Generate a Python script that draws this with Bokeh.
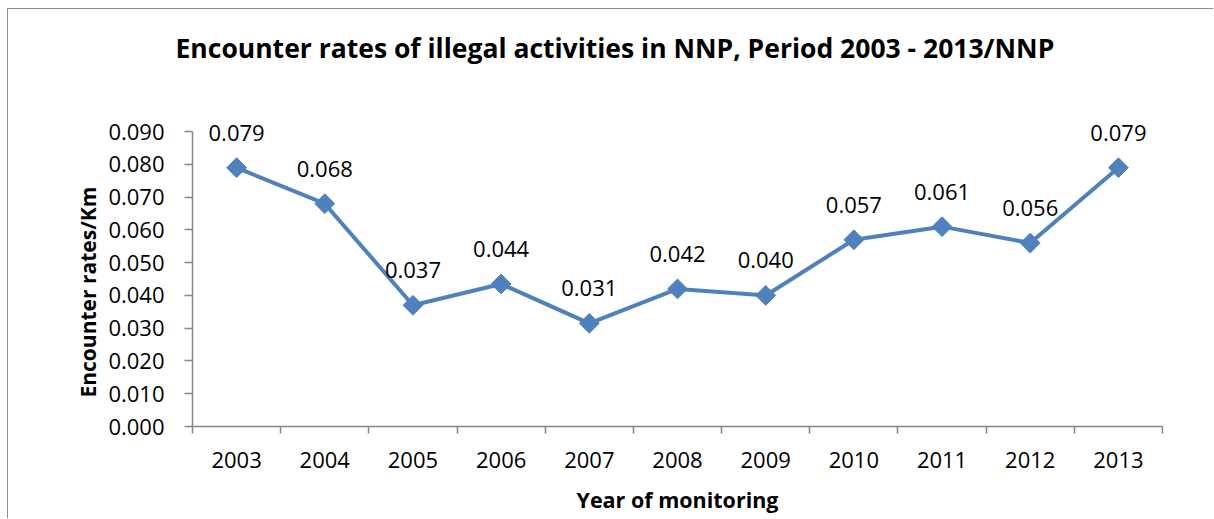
import math
from bokeh.plotting import figure
from bokeh.models import ColumnDataSource, Range1d, FixedTicker, NumeralTickFormatter, LabelSet, Title
from bokeh.core.properties import value
from bokeh.embed import file_html
from bokeh.resources import INLINE

years = [2003, 2004, 2005, 2006, 2007, 2008, 2009, 2010, 2011, 2012, 2013]
rates = [0.079, 0.068, 0.037, 0.0435, 0.0315, 0.042, 0.040, 0.057, 0.061, 0.056, 0.079]
labels = ["0.079", "0.068", "0.037", "0.044", "0.031", "0.042", "0.040", "0.057", "0.061", "0.056", "0.079"]
y_ticks = [0.0, 0.01, 0.02, 0.03, 0.04, 0.05, 0.06, 0.07, 0.08, 0.09]
title_text = "Encounter rates of illegal activities in NNP, Period 2003 - 2013/NNP"
y_title = "Encounter rates/Km"
x_title = "Year of monitoring"

FONT = "Open Sans"
LINE = "#4F81BD"
AXIS = "#868686"

src = ColumnDataSource(dict(x=years, y=rates, lab=labels))

p = figure(width=1206, height=510, output_backend="svg", toolbar_location=None,
           x_range=Range1d(years[0] - 0.5, years[-1] + 0.5), y_range=Range1d(0, 0.105),
           min_border_left=184, min_border_right=52, min_border_top=73, min_border_bottom=93)
p.styles = {"border-left": "1px solid #8c8c8c", "border-top": "1px solid #8c8c8c",
            "margin-left": "7px", "margin-top": "8px"}
p.outline_line_color = None
p.xgrid.visible = False
p.ygrid.visible = False

p.title.text = title_text
p.title.align = "left"
p.title.offset = -17
p.title.text_font = FONT
p.title.text_font_style = "bold"
p.title.text_font_size = "26.5px"
p.title.text_color = "black"
p.title.standoff = 34

p.line("x", "y", source=src, line_color=LINE, line_width=4)
p.scatter("x", "y", source=src, marker="square", angle=math.pi / 4, size=14,
          fill_color=LINE, line_color=LINE)
p.add_layout(LabelSet(x="x", y="y", text="lab", source=src, y_offset=35, text_align="center",
                      text_baseline="middle", text_font=value(FONT), text_font_size=value("22px"),
                      text_color="black"))

# x axis
xa = p.xaxis[0]
xa.ticker = FixedTicker(ticks=years, minor_ticks=[y - 0.5 for y in years] + [years[-1] + 0.5])
xa.major_tick_out = 0
xa.major_tick_in = 0
xa.minor_tick_out = 7
xa.minor_tick_in = 0
xa.minor_tick_line_color = AXIS
xa.axis_line_color = AXIS
xa.axis_line_width = 1.5
xa.minor_tick_line_width = 1.5
xa.major_label_text_font = FONT
xa.major_label_text_font_size = "22px"
xa.major_label_text_color = "black"
xa.major_label_standoff = 18
xa.axis_label = x_title
xa.axis_label_text_font = FONT
xa.axis_label_text_font_style = "bold"
xa.axis_label_text_font_size = "21.5px"
xa.axis_label_text_color = "black"
xa.axis_label_standoff = 14

ya = p.yaxis[0]
ya.ticker = FixedTicker(ticks=y_ticks)
ya.bounds = (y_ticks[0], y_ticks[-1])
ya.formatter = NumeralTickFormatter(format="0.000")
ya.major_tick_out = 8
ya.major_tick_in = 0
ya.minor_tick_out = 0
ya.minor_tick_in = 0
ya.major_tick_line_color = AXIS
ya.axis_line_color = AXIS
ya.axis_line_width = 1.5
ya.major_tick_line_width = 1.5
ya.major_label_text_font = FONT
ya.major_label_text_font_size = "22px"
ya.major_label_text_color = "black"
ya.major_label_standoff = 20

ytitle = Title(text=y_title, align="left", offset=29, standoff=8, text_font=FONT,
               text_font_style="bold", text_font_size="21px", text_color="black")
p.add_layout(ytitle, "left")

open("out.html", "w").write(file_html(p, INLINE))
